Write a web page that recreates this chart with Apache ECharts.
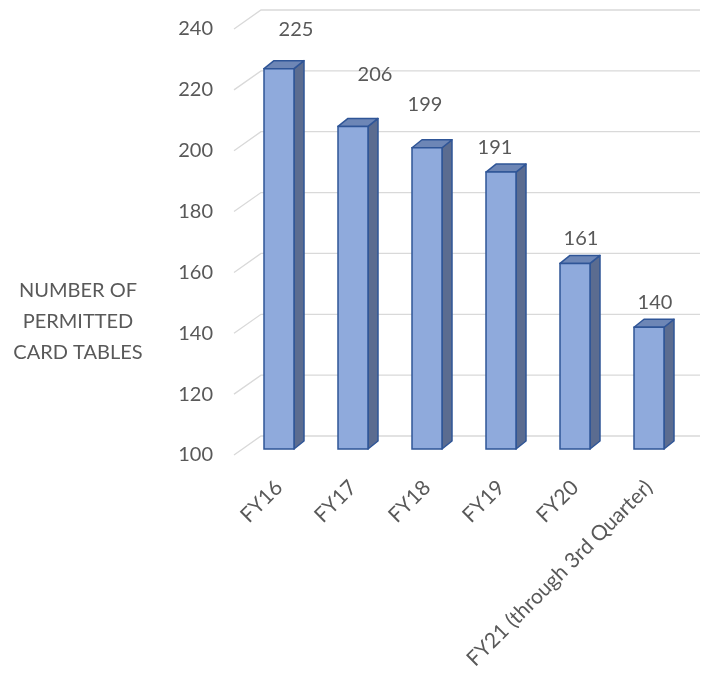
<!DOCTYPE html>
<html>
<head>
<meta charset="utf-8">
<script src="https://cdn.jsdelivr.net/npm/echarts@6/dist/echarts.min.js"></script>
<style>html,body{margin:0;padding:0;background:#fff;}#c{width:705px;height:675px;}</style>
</head>
<body>
<div id="c"></div>
<script>
var categories = ['FY16', 'FY17', 'FY18', 'FY19', 'FY20', 'FY21 (through 3rd Quarter)'];
var values = [225, 206, 199, 191, 161, 140];
var yTicks = [100, 120, 140, 160, 180, 200, 220, 240];
var yTitle = 'NUMBER OF\nPERMITTED\nCARD TABLES';

// style-only label nudges [dx, dy] (pixels)
var labelNudge = [[12, -14], [17, -27], [-7, -18], [-11, 0], [1, 0], [1, 0]];

var FONT = 'Lato';
var TXT = '#595959';
var FRONT = '#8FAADC', SIDE = '#5B6C90', TOP = '#6D86B6', EDGE = '#2F5597';
var HALF = 15, DX = 10, DY = 8, LIFT = 6;

var chart = echarts.init(document.getElementById('c'));
var yMin = yTicks[0], yMax = yTicks[yTicks.length - 1];

chart.setOption({
  animation: false,
  grid: {left: 242, right: 19, top: 29, bottom: 220},
  xAxis: {
    type: 'category', data: categories,
    axisLine: {show: false}, axisTick: {show: false}, splitLine: {show: false},
    axisLabel: {rotate: 45, margin: 29, fontSize: 21, color: TXT, fontFamily: FONT, interval: 0}
  },
  yAxis: {
    type: 'value', min: yMin, max: yMax, interval: 20,
    axisLine: {show: false}, axisTick: {show: false}, splitLine: {show: false},
    axisLabel: {margin: 29, fontSize: 20, color: TXT, fontFamily: FONT}
  },
  graphic: [{
    type: 'text', x: 78, y: 322,
    style: {text: yTitle, fill: TXT, font: '20px ' + FONT, textAlign: 'center', textVerticalAlign: 'middle', lineHeight: 31}
  }],
  series: [{
    type: 'custom', z: 1, silent: true,
    data: yTicks.map(function (t) { return [0, t]; }),
    renderItem: function (params, api) {
      var cs = params.coordSys;
      var y = api.coord([0, api.value(1)])[1];
      var x0 = cs.x - 8;
      return {
        type: 'polyline',
        shape: {points: [[x0, y], [x0 + 27, y - 19], [cs.x + cs.width + 14, y - 19]]},
        style: {stroke: '#D9D9D9', lineWidth: 1.3, fill: null}
      };
    }
  }, {
    type: 'custom', z: 2, silent: true,
    data: values.map(function (v, i) { return [i, v]; }),
    renderItem: function (params, api) {
      var i = api.value(0), v = api.value(1);
      var base = api.coord([i, yMin]);
      var topP = api.coord([i, v]);
      var cx = base[0];
      var yb = base[1] - LIFT, yt = topP[1] - LIFT;
      var xl = cx - HALF, xr = cx + HALF;
      var n = labelNudge[params.dataIndex] || [0, 0];
      return {
        type: 'group',
        children: [
          {type: 'polygon', shape: {points: [[xr, yt], [xr + DX, yt - DY], [xr + DX, yb - DY], [xr, yb]]},
            style: {fill: SIDE, stroke: EDGE, lineWidth: 1.5, lineJoin: 'round'}},
          {type: 'polygon', shape: {points: [[xl, yt], [xl + DX, yt - DY], [xr + DX, yt - DY], [xr, yt]]},
            style: {fill: TOP, stroke: EDGE, lineWidth: 1.5, lineJoin: 'round'}},
          {type: 'rect', shape: {x: xl, y: yt, width: 2 * HALF, height: yb - yt},
            style: {fill: FRONT, stroke: EDGE, lineWidth: 1.5}},
          {type: 'text', x: cx + 5 + n[0], y: yt - 25 + n[1],
            style: {text: String(v), fill: TXT, font: '20px ' + FONT, textAlign: 'center', textVerticalAlign: 'middle'}}
        ]
      };
    }
  }]
});
</script>
</body>
</html>
